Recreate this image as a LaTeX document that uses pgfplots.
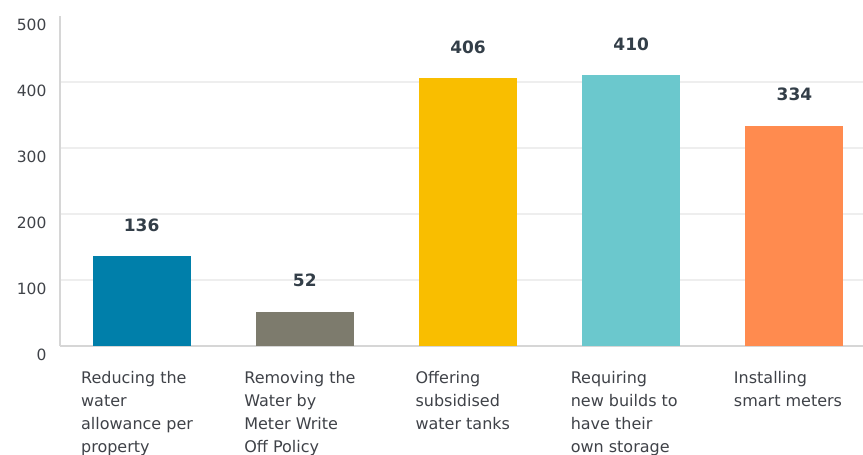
\documentclass[border=0pt]{standalone}
\usepackage{fontspec}
\setmainfont{DejaVu Sans}
\usepackage{pgfplots}
\pgfplotsset{compat=1.18}
\definecolor{cA}{HTML}{007FAA}
\definecolor{cB}{HTML}{7D7B6D}
\definecolor{cC}{HTML}{F9BE00}
\definecolor{cD}{HTML}{6BC8CD}
\definecolor{cE}{HTML}{FF8B4F}
\definecolor{txt}{HTML}{3F4248}
\definecolor{val}{HTML}{333E48}
\definecolor{gridc}{HTML}{EEEEEE}
\definecolor{axc}{HTML}{D6D6D6}
\begin{document}
\begin{tikzpicture}
\useasboundingbox (-60pt,-109pt) rectangle (803pt,346pt);
\begin{axis}[
    scale only axis,
    width=803pt, height=330pt,
    xmin=-0.5, xmax=4.42,
    ymin=0, ymax=500,
    ytick={100,200,300,400},
    extra y ticks={0,500},
    extra y tick style={grid=none},
    xtick={0,1,2,3,4},
    xticklabels={
      {Reducing the\\water\\allowance per\\property},
      {Removing the\\Water by\\Meter Write\\Off Policy},
      {\hspace*{8pt}Offering\\\hspace*{8pt}subsidised\\\hspace*{8pt}water tanks},
      {Requiring\\new builds to\\have their\\own storage},
      {Installing\\smart meters}},
    major tick length=0pt,
    axis x line*=bottom, axis y line*=left,
    x axis line style={-, axc, line width=2pt},
    y axis line style={-, axc, line width=1.2pt},
    ymajorgrids, grid style={gridc, line width=1.5pt},
    /pgf/number format/assume math mode=true,
    yticklabel style={font=\fontsize{15.5}{18}\selectfont, text=txt, yshift=-9pt, xshift=-10pt},
    xticklabel style={font=\fontsize{16}{23}\selectfont, text=txt, anchor=north west,
        xshift=-64pt, yshift=-22pt, align=left},
    ybar, bar width=0.6, bar shift=0pt,
    nodes near coords,
    every node near coord/.append style={font=\bfseries\fontsize{17}{20}\selectfont, text=val, yshift=21pt},
    clip=false,
]
\addplot[fill=cA, draw=none] coordinates {(0,136)};
\addplot[fill=cB, draw=none] coordinates {(1,52)};
\addplot[fill=cC, draw=none] coordinates {(2,406)};
\addplot[fill=cD, draw=none] coordinates {(3,410)};
\addplot[fill=cE, draw=none] coordinates {(4,334)};
\end{axis}
\end{tikzpicture}
\end{document}
